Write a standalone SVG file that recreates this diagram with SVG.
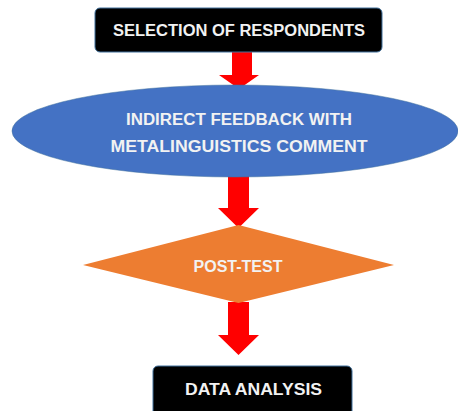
<svg xmlns="http://www.w3.org/2000/svg" width="458" height="411" viewBox="0 0 458 411">
<style>
.box{fill:#000;stroke:#41719C;stroke-width:1}
.t{font-family:"Liberation Sans",Arial,sans-serif;font-weight:bold;font-size:16px;fill:#F2F2F2;text-anchor:middle}
.arr{fill:#FF0000}
</style>
<rect width="458" height="411" fill="#fff"/>
<g id="connectors">
<polygon class="arr" points="232,52 252,52 252,75 259,75 239,89 219,75 232,75"/>
<polygon class="arr" points="228,176 249,176 249,208 259,208 238.5,228 218,208 228,208"/>
<polygon class="arr" points="228,302 249,302 249,335 259,335 238.5,355 218,335 228,335"/>
</g>
<g id="selection">
<rect class="box" x="95" y="8" width="287" height="44" rx="5"/>
<text class="t" x="239" y="36" textLength="252" lengthAdjust="spacingAndGlyphs">SELECTION OF RESPONDENTS</text>
</g>
<g id="feedback">
<ellipse cx="235" cy="131" rx="223" ry="46" fill="#4472C4" stroke="#41719C" stroke-width="0.5"/>
<text class="t" x="239" y="125" textLength="226" lengthAdjust="spacingAndGlyphs">INDIRECT FEEDBACK WITH</text>
<text class="t" x="239" y="152" textLength="257" lengthAdjust="spacingAndGlyphs">METALINGUISTICS COMMENT</text>
</g>
<g id="posttest">
<polygon points="238.5,225 394,265 238.5,303 83,265" fill="#ED7D31"/>
<text class="t" x="238" y="272" textLength="89" lengthAdjust="spacingAndGlyphs">POST-TEST</text>
</g>
<g id="analysis">
<rect class="box" x="153" y="366" width="199" height="50" rx="5"/>
<text class="t" x="253.5" y="395" textLength="137" lengthAdjust="spacingAndGlyphs">DATA ANALYSIS</text>
</g>
</svg>
